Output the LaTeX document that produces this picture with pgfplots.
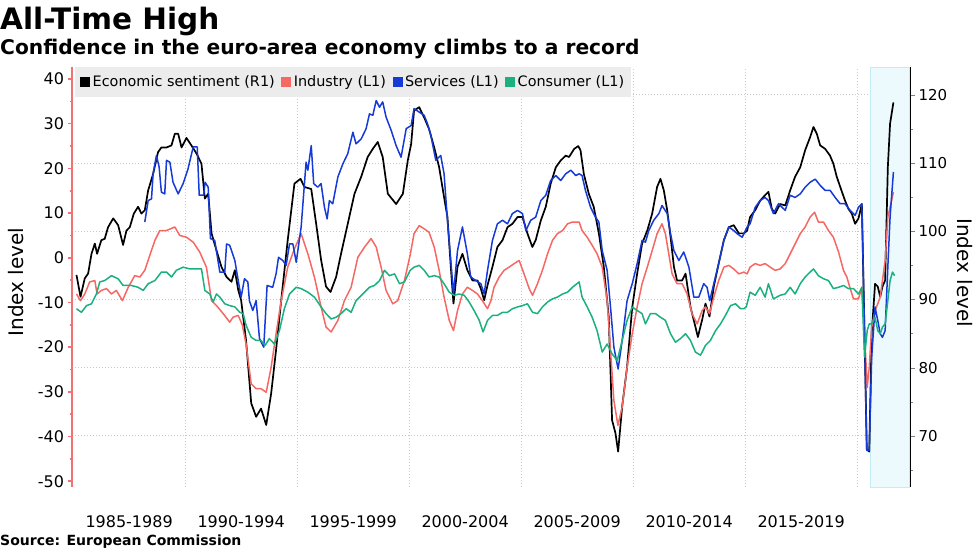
\documentclass[border=0pt]{standalone}
\usepackage{pgfplots}
\pgfplotsset{compat=1.18}
\usepackage{fontspec}
\setmainfont{DejaVu Sans}

\definecolor{ind}{RGB}{245,104,100}
\definecolor{srv}{RGB}{22,58,214}
\definecolor{con}{RGB}{26,176,128}
\definecolor{laxis}{RGB}{240,115,115}
\definecolor{legbg}{RGB}{236,236,236}
\definecolor{band}{RGB}{236,250,253}
\definecolor{bandedge}{RGB}{196,236,244}
\definecolor{gridc}{RGB}{200,200,200}

\pgfplotsset{
  /pgf/number format/assume math mode=true,
  base/.style={
    at={(72pt,62pt)}, anchor=south west, scale only axis,
    width=838pt, height=420pt,
    xmin=1984.95, xmax=2022.36,
    tick align=outside,
    axis line style={-},
  },
}

\begin{document}
\begin{tikzpicture}[x=1pt,y=1pt]
\useasboundingbox (0pt,0pt) rectangle (977pt,549pt);
\node[anchor=base west, inner sep=0] at (0pt,519pt) {\fontsize{29.5}{32}\selectfont\bfseries All-Time High};
\node[anchor=base west, inner sep=0] at (0pt,494pt) {\fontsize{20.2}{22}\selectfont\bfseries Confidence in the euro-area economy climbs to a record};
\node[anchor=base west, inner sep=0] at (0pt,4pt) {\fontsize{14}{16}\selectfont\bfseries Source: European Commission};

% right axis: economic sentiment, grid, shaded band
\begin{axis}[base,
  ymin=62.5, ymax=124.1,
  axis x line*=bottom, axis y line*=right,
  x axis line style={draw=none},
  xtick={1987.5,1992.5,1997.5,2002.5,2007.5,2012.5,2017.5},
  xticklabels={1985-1989,1990-1994,1995-1999,2000-2004,2005-2009,2010-2014,2015-2019},
  xtick style={draw=none},
  xticklabel style={font=\fontsize{16}{18}\selectfont, yshift=-20pt},
  extra x ticks={1990,1995,2000,2005,2010,2015,2020},
  extra x tick labels={},
  extra x tick style={xmajorgrids=true, major tick length=0pt},
  ytick={70,80,90,100,110,120},
  yticklabels={70,80,90,100,110,120},
  minor ytick={65,75,85,95,105,115},
  major tick length=5pt, minor tick length=3pt,
  ymajorgrids=true,
  major grid style={gridc, line width=0.9pt, dash pattern=on 1pt off 2pt},
  y axis line style={line width=1.1pt},
  yticklabel style={font=\fontsize{15}{17}\selectfont},
  ylabel={Index level},
  ylabel style={font=\fontsize{20}{22}\selectfont, at={(axis description cs:1.0656,0.51)}, anchor=center, rotate=180},
]
\addplot[fill=band, draw=bandedge, line width=0.8pt] coordinates {(2020.575,62.5) (2020.575,124.1) (2022.32,124.1) (2022.32,62.5)} -- cycle;
\addplot[black, line width=1.7pt, line join=round] coordinates {
(1985.15,93.6) (1985.33,90.4) (1985.52,93.1) (1985.67,93.8) (1985.82,96.7) (1985.97,98.2)
(1986.07,96.7) (1986.26,98.7) (1986.41,98.9) (1986.56,100.6) (1986.79,101.9) (1987.01,100.9)
(1987.23,98.0) (1987.38,100.1) (1987.53,100.6) (1987.71,102.6) (1987.90,103.6) (1988.05,102.6)
(1988.20,103.1) (1988.35,106.0) (1988.57,108.4) (1988.79,111.6) (1988.94,112.3) (1989.17,112.3)
(1989.39,112.6) (1989.54,114.3) (1989.69,114.3) (1989.84,112.3) (1990.06,113.7) (1990.28,112.6)
(1990.51,111.4) (1990.73,109.9) (1990.88,104.8) (1991.03,105.5) (1991.18,99.7) (1991.40,97.2)
(1991.62,94.8) (1991.85,93.3) (1992.07,92.6) (1992.22,94.3) (1992.37,91.4) (1992.50,89.9)
(1992.72,84.0) (1992.95,74.8) (1993.17,72.8) (1993.39,74.0) (1993.62,71.6) (1993.84,76.2)
(1994.06,82.6) (1994.29,89.9) (1994.58,98.7) (1994.88,107.0) (1995.15,107.7) (1995.33,106.5)
(1995.63,106.2) (1995.85,101.1) (1996.07,95.8) (1996.29,91.9) (1996.49,91.1) (1996.74,93.3)
(1996.96,96.7) (1997.26,101.1) (1997.56,105.5) (1997.86,108.0) (1998.15,110.9) (1998.38,112.1)
(1998.60,113.1) (1998.82,110.9) (1999.05,105.5) (1999.42,104.0) (1999.72,105.5) (1999.94,110.4)
(2000.09,112.8) (2000.22,117.7) (2000.45,118.2) (2000.67,116.7) (2000.89,115.0) (2001.12,112.3)
(2001.34,109.4) (2001.56,105.0) (2001.71,102.1) (2001.86,94.8) (2001.98,89.4) (2002.16,94.8)
(2002.38,96.7) (2002.60,94.3) (2002.83,92.8) (2003.05,92.8) (2003.20,91.6) (2003.35,89.9)
(2003.50,92.1) (2003.72,94.8) (2003.94,97.7) (2004.17,98.7) (2004.39,100.6) (2004.61,101.1)
(2004.84,102.1) (2005.06,102.1) (2005.28,99.7) (2005.50,97.7) (2005.65,98.7) (2005.88,101.6)
(2006.10,103.6) (2006.32,107.0) (2006.55,109.4) (2006.77,110.4) (2006.99,111.1) (2007.14,110.9)
(2007.37,112.1) (2007.55,112.5) (2007.65,111.9) (2007.80,108.4) (2008.02,105.5) (2008.24,103.6)
(2008.47,99.7) (2008.69,94.8) (2008.91,87.5) (2009.06,72.3) (2009.21,70.4) (2009.33,67.7)
(2009.51,74.3) (2009.73,80.1) (2009.96,88.9) (2010.18,93.8) (2010.40,98.2) (2010.63,100.1)
(2010.85,102.6) (2011.07,106.5) (2011.22,107.7) (2011.37,106.0) (2011.52,103.1) (2011.67,99.2)
(2011.82,94.8) (2011.96,92.8) (2012.19,92.8) (2012.34,93.8) (2012.56,88.9) (2012.78,86.0)
(2012.89,84.5) (2013.08,87.0) (2013.23,89.4) (2013.41,87.5) (2013.60,91.9) (2013.82,95.3)
(2014.05,98.7) (2014.27,100.6) (2014.49,100.9) (2014.72,99.7) (2014.94,99.7) (2015.09,100.1)
(2015.22,102.1) (2015.45,103.1) (2015.67,104.5) (2015.89,105.3) (2016.04,105.8) (2016.19,103.3)
(2016.34,102.6) (2016.56,104.0) (2016.79,103.8) (2017.01,106.0) (2017.23,108.0) (2017.46,109.4)
(2017.68,111.9) (2017.90,113.8) (2018.05,115.3) (2018.20,114.3) (2018.35,112.6) (2018.57,112.1)
(2018.79,111.1) (2018.94,109.9) (2019.09,108.0) (2019.32,105.8) (2019.46,104.5) (2019.61,103.3)
(2019.76,102.6) (2019.91,101.1) (2020.06,101.9) (2020.21,104.0) (2020.33,85.0) (2020.43,68.0)
(2020.54,67.7) (2020.65,85.0) (2020.80,92.3) (2020.92,91.9) (2021.03,90.4) (2021.13,91.9)
(2021.25,92.8) (2021.37,109.4) (2021.47,115.8) (2021.62,118.9)
};
\end{axis}

% left axis: industry, services, consumer
\begin{axis}[base,
  ymin=-51.3, ymax=42.7,
  axis x line*=bottom, axis y line*=left,
  x axis line style={draw=none},
  xtick=\empty,
  y axis line style={laxis, line width=1.4pt},
  ytick={-50,-40,-30,-20,-10,0,10,20,30,40},
  yticklabels={-50,-40,-30,-20,-10,0,10,20,30,40},
  minor ytick={-45,-35,-25,-15,-5,5,15,25,35},
  major tick length=4.5pt, minor tick length=2.5pt,
  ytick style={laxis, line width=1.5pt},
  minor tick style={laxis, line width=1.2pt},
  yticklabel style={font=\fontsize{16}{18}\selectfont},
  ylabel={Index level},
  ylabel style={font=\fontsize{20}{22}\selectfont, at={(axis description cs:-0.067,0.488)}, anchor=center},
  legend columns=4,
  legend cell align=left,
  legend image code/.code={\fill[#1, draw=none] (0pt,-5pt) rectangle (10pt,5pt);},
  legend style={at={(0.0036,1)}, anchor=north west, fill=legbg, draw=none,
    inner xsep=5pt, inner ysep=7pt,
    font=\fontsize{14.4}{16}\selectfont,
    nodes={inner sep=1.5pt},
    /tikz/every odd column/.append style={column sep=1pt},
    /tikz/every even column/.append style={column sep=5pt}},
]
\addlegendimage{black}
\addlegendentry{Economic sentiment (R1)}
\addplot[ind, line width=1.5pt, line join=round] coordinates {
(1985.15,-8.1) (1985.33,-9.6) (1985.52,-8.1) (1985.74,-5.4) (1985.97,-5.1) (1986.07,-8.1)
(1986.26,-7.3) (1986.49,-6.9) (1986.71,-8.1) (1986.93,-7.3) (1987.20,-9.6) (1987.46,-6.6)
(1987.75,-4.0) (1987.98,-4.3) (1988.20,-2.8) (1988.42,0.5) (1988.65,3.9) (1988.87,6.1)
(1989.17,6.1) (1989.54,6.9) (1989.76,5.0) (1990.06,4.6) (1990.36,3.5) (1990.65,1.3)
(1990.95,-2.1) (1991.18,-9.6) (1991.40,-10.7) (1991.70,-12.5) (1991.99,-14.4) (1992.14,-13.3)
(1992.37,-12.9) (1992.55,-15.0) (1992.72,-19.3) (1992.95,-28.2) (1993.17,-29.3) (1993.39,-29.3)
(1993.62,-30.1) (1993.84,-24.5) (1994.06,-17.0) (1994.29,-9.6) (1994.58,-2.1) (1994.88,2.0)
(1995.18,5.4) (1995.48,0.9) (1995.77,-4.3) (1996.07,-11.0) (1996.29,-15.5) (1996.52,-16.6)
(1996.82,-14.0) (1997.11,-9.6) (1997.41,-6.6) (1997.71,0.1) (1998.01,2.4) (1998.30,4.3)
(1998.53,2.4) (1998.75,-2.1) (1998.97,-7.3) (1999.27,-10.3) (1999.49,-9.6) (1999.79,-5.1)
(2000.05,0.7) (2000.22,5.4) (2000.45,7.2) (2000.67,6.5) (2000.89,5.7) (2001.12,2.4)
(2001.34,-2.8) (2001.56,-8.8) (2001.79,-14.0) (2001.98,-16.3) (2002.16,-11.8) (2002.38,-8.1)
(2002.60,-6.6) (2002.83,-7.3) (2003.05,-8.1) (2003.27,-9.6) (2003.50,-11.4) (2003.65,-9.6)
(2003.79,-6.6) (2004.02,-4.3) (2004.24,-2.8) (2004.46,-2.1) (2004.69,-1.3) (2004.91,-0.6)
(2005.13,-3.6) (2005.36,-6.9) (2005.51,-8.4) (2005.73,-5.8) (2005.95,-2.8) (2006.18,0.9)
(2006.40,3.9) (2006.62,5.4) (2006.85,6.1) (2007.07,7.6) (2007.29,8.0) (2007.59,8.0)
(2007.72,6.1) (2007.95,4.6) (2008.17,2.8) (2008.39,0.9) (2008.62,-2.1) (2008.84,-9.6)
(2008.99,-20.7) (2009.14,-31.9) (2009.32,-37.5) (2009.51,-33.4) (2009.73,-24.5) (2009.96,-17.0)
(2010.18,-11.0) (2010.40,-5.8) (2010.63,-2.1) (2010.85,1.6) (2011.07,5.4) (2011.29,7.6)
(2011.44,5.4) (2011.59,0.9) (2011.74,-3.6) (2011.96,-5.8) (2012.19,-5.8) (2012.41,-8.1)
(2012.63,-12.5) (2012.86,-14.8) (2013.08,-11.8) (2013.23,-11.0) (2013.41,-12.5) (2013.60,-8.8)
(2013.82,-5.1) (2014.05,-2.1) (2014.27,-1.7) (2014.49,-2.5) (2014.72,-3.6) (2014.94,-3.2)
(2015.09,-3.6) (2015.22,-2.1) (2015.45,-1.3) (2015.67,-1.7) (2015.89,-1.3) (2016.12,-2.1)
(2016.34,-2.8) (2016.56,-2.5) (2016.79,-1.3) (2017.01,0.9) (2017.23,3.1) (2017.46,5.4)
(2017.68,6.9) (2017.90,9.1) (2018.10,10.2) (2018.27,8.0) (2018.50,8.0) (2018.72,6.1)
(2018.94,4.6) (2019.17,1.3) (2019.39,-2.8) (2019.54,-4.3) (2019.69,-6.9) (2019.84,-9.2)
(2020.06,-9.2) (2020.21,-6.6) (2020.33,-17.0) (2020.45,-29.0) (2020.54,-24.5) (2020.65,-15.5)
(2020.80,-11.8) (2020.92,-10.3) (2021.03,-8.8) (2021.13,-5.1) (2021.25,-0.6) (2021.37,9.1)
(2021.47,11.3) (2021.62,14.7)
};
\addlegendentry{Industry (L1)}
\addplot[srv, line width=1.5pt, line join=round] coordinates {
(1988.20,8.0) (1988.35,12.8) (1988.50,13.2) (1988.57,18.8) (1988.72,22.9) (1988.84,20.3)
(1988.94,14.7) (1989.09,14.3) (1989.17,21.8) (1989.32,21.4) (1989.46,16.9) (1989.69,14.3)
(1989.91,16.6) (1990.13,19.9) (1990.36,24.8) (1990.54,24.8) (1990.63,14.0) (1990.83,14.0)
(1990.89,16.9) (1991.03,15.8) (1991.13,4.3) (1991.32,3.9) (1991.55,-3.2) (1991.77,-3.2)
(1991.85,3.1) (1991.99,2.8) (1992.22,-0.6) (1992.37,-5.1) (1992.50,-8.8) (1992.65,-4.7)
(1992.80,-5.4) (1992.87,-9.6) (1993.02,-11.8) (1993.17,-9.6) (1993.32,-18.1) (1993.51,-20.0)
(1993.66,-6.2) (1993.91,-6.6) (1994.06,-3.6) (1994.17,0.1) (1994.36,-0.6) (1994.51,-1.7)
(1994.66,3.1) (1994.81,3.1) (1994.96,-1.0) (1995.18,6.9) (1995.40,21.4) (1995.48,19.6)
(1995.63,25.1) (1995.74,16.6) (1995.92,15.8) (1996.07,16.6) (1996.22,11.3) (1996.34,8.7)
(1996.44,12.8) (1996.59,12.1) (1996.82,18.1) (1997.04,21.0) (1997.26,23.3) (1997.49,28.1)
(1997.63,25.5) (1997.86,26.6) (1998.08,28.9) (1998.23,32.2) (1998.38,31.9) (1998.53,35.2)
(1998.68,33.7) (1998.82,34.9) (1998.97,31.5) (1999.20,28.5) (1999.42,25.1) (1999.64,22.5)
(1999.87,28.9) (2000.09,29.6) (2000.22,33.4) (2000.45,32.6) (2000.67,31.9) (2000.82,30.0)
(2000.97,27.4) (2001.19,21.8) (2001.41,22.9) (2001.56,18.8) (2001.71,8.4) (2001.86,-0.6)
(2001.98,-8.1) (2002.16,1.6) (2002.38,6.9) (2002.60,0.9) (2002.75,-4.3) (2002.98,-5.1)
(2003.20,-5.8) (2003.35,-8.1) (2003.50,-2.8) (2003.72,3.9) (2003.94,7.6) (2004.17,8.4)
(2004.39,7.6) (2004.61,9.9) (2004.84,10.6) (2005.06,9.9) (2005.21,6.1) (2005.43,8.4)
(2005.65,9.1) (2005.88,12.8) (2006.10,14.0) (2006.32,17.3) (2006.55,18.4) (2006.77,17.3)
(2006.99,18.8) (2007.22,19.6) (2007.44,18.4) (2007.59,18.8) (2007.72,18.4) (2007.87,15.1)
(2008.10,11.3) (2008.32,9.1) (2008.47,8.0) (2008.62,1.6) (2008.84,-2.8) (2008.99,-11.0)
(2009.14,-20.0) (2009.33,-24.9) (2009.51,-18.5) (2009.73,-9.6) (2009.96,-5.8) (2010.18,-1.3)
(2010.40,3.9) (2010.55,3.5) (2010.70,6.1) (2010.92,8.4) (2011.15,9.9) (2011.29,11.7)
(2011.52,9.9) (2011.67,5.4) (2011.82,1.6) (2012.04,-0.6) (2012.26,1.3) (2012.49,-2.1)
(2012.71,-8.8) (2012.93,-8.8) (2013.15,-5.8) (2013.30,-6.6) (2013.42,-9.6) (2013.60,-5.8)
(2013.82,-1.3) (2014.05,3.9) (2014.27,6.9) (2014.49,6.1) (2014.64,5.4) (2014.87,4.6)
(2015.09,6.9) (2015.22,7.6) (2015.45,11.3) (2015.67,12.8) (2015.89,13.5) (2016.04,12.8)
(2016.26,9.9) (2016.49,12.1) (2016.79,10.6) (2017.01,14.0) (2017.23,13.5) (2017.46,14.3)
(2017.68,15.8) (2017.90,16.9) (2018.13,17.6) (2018.35,16.2) (2018.57,15.1) (2018.79,15.1)
(2019.02,13.5) (2019.24,12.1) (2019.46,12.1) (2019.69,10.6) (2019.91,9.5) (2020.06,11.3)
(2020.21,12.1) (2020.33,-17.0) (2020.43,-43.1) (2020.54,-43.1) (2020.65,-22.2) (2020.80,-11.0)
(2020.92,-14.0) (2021.03,-17.0) (2021.13,-17.8) (2021.25,-16.3) (2021.37,-2.1) (2021.47,9.1)
(2021.62,19.2)
};
\addlegendentry{Services (L1)}
\addplot[con, line width=1.5pt, line join=round] coordinates {
(1985.15,-11.4) (1985.37,-12.2) (1985.60,-10.7) (1985.82,-10.3) (1986.04,-8.1) (1986.19,-5.4)
(1986.41,-5.1) (1986.71,-4.0) (1987.01,-4.7) (1987.23,-6.2) (1987.60,-6.2) (1987.90,-6.6)
(1988.13,-7.3) (1988.35,-5.8) (1988.65,-5.1) (1988.94,-3.2) (1989.17,-3.2) (1989.39,-4.3)
(1989.61,-2.8) (1989.91,-2.1) (1990.21,-2.5) (1990.51,-2.5) (1990.73,-2.5) (1990.88,-7.3)
(1991.10,-8.1) (1991.25,-9.9) (1991.40,-8.1) (1991.55,-8.8) (1991.77,-10.3) (1991.99,-10.7)
(1992.22,-11.0) (1992.44,-12.2) (1992.59,-12.5) (1992.72,-15.1) (1992.95,-17.8) (1993.17,-18.5)
(1993.39,-18.5) (1993.57,-19.6) (1993.76,-18.1) (1993.99,-19.3) (1994.21,-16.3) (1994.43,-11.4)
(1994.66,-8.1) (1994.96,-6.6) (1995.18,-6.9) (1995.48,-7.7) (1995.77,-8.8) (1996.07,-11.0)
(1996.29,-12.5) (1996.52,-13.7) (1996.74,-13.3) (1996.96,-12.5) (1997.19,-11.4) (1997.41,-12.2)
(1997.63,-9.6) (1997.93,-8.1) (1998.23,-6.6) (1998.45,-6.2) (1998.68,-5.1) (1998.90,-2.8)
(1999.12,-4.0) (1999.35,-3.6) (1999.57,-5.8) (1999.79,-5.4) (2000.05,-2.8) (2000.22,-2.1)
(2000.45,-1.7) (2000.67,-2.8) (2000.89,-4.3) (2001.12,-4.0) (2001.34,-4.3) (2001.56,-5.8)
(2001.79,-7.7) (2002.01,-8.4) (2002.23,-8.1) (2002.46,-8.4) (2002.68,-9.9) (2002.90,-11.8)
(2003.13,-14.0) (2003.30,-16.6) (2003.50,-14.0) (2003.72,-12.9) (2003.94,-12.9) (2004.17,-12.2)
(2004.39,-12.2) (2004.61,-11.4) (2004.84,-11.0) (2005.06,-10.7) (2005.28,-10.3) (2005.51,-12.2)
(2005.73,-12.5) (2005.95,-11.0) (2006.18,-9.9) (2006.40,-9.2) (2006.62,-8.8) (2006.85,-8.1)
(2007.07,-7.7) (2007.29,-6.6) (2007.59,-5.4) (2007.72,-8.8) (2007.95,-11.0) (2008.17,-13.3)
(2008.39,-16.3) (2008.62,-21.1) (2008.84,-19.3) (2009.06,-21.5) (2009.29,-23.0) (2009.51,-18.5)
(2009.73,-14.0) (2009.96,-11.0) (2010.18,-11.8) (2010.40,-12.5) (2010.55,-14.8) (2010.77,-12.5)
(2011.00,-12.5) (2011.22,-13.3) (2011.44,-14.0) (2011.67,-17.0) (2011.89,-18.9) (2012.11,-18.1)
(2012.34,-17.0) (2012.56,-18.5) (2012.78,-21.1) (2013.01,-21.8) (2013.23,-19.6) (2013.45,-18.5)
(2013.68,-16.3) (2013.90,-14.8) (2014.12,-12.9) (2014.35,-10.7) (2014.57,-10.3) (2014.79,-11.4)
(2014.94,-11.4) (2015.05,-11.0) (2015.22,-7.7) (2015.45,-8.4) (2015.67,-6.6) (2015.89,-8.8)
(2016.04,-5.8) (2016.26,-9.2) (2016.56,-8.4) (2016.79,-8.1) (2017.01,-6.6) (2017.23,-8.1)
(2017.46,-5.8) (2017.68,-4.3) (2017.90,-3.2) (2018.05,-2.5) (2018.27,-4.0) (2018.50,-4.7)
(2018.72,-5.1) (2018.94,-6.9) (2019.17,-6.6) (2019.39,-6.2) (2019.61,-6.9) (2019.84,-6.9)
(2020.06,-8.1) (2020.21,-6.6) (2020.33,-22.2) (2020.45,-16.3) (2020.54,-14.8) (2020.65,-14.8)
(2020.80,-13.3) (2020.92,-16.3) (2021.03,-17.0) (2021.13,-15.5) (2021.25,-14.8) (2021.37,-9.6)
(2021.47,-5.1) (2021.58,-3.2) (2021.67,-4.0)
};
\addlegendentry{Consumer (L1)}
\end{axis}
\end{tikzpicture}
\end{document}
